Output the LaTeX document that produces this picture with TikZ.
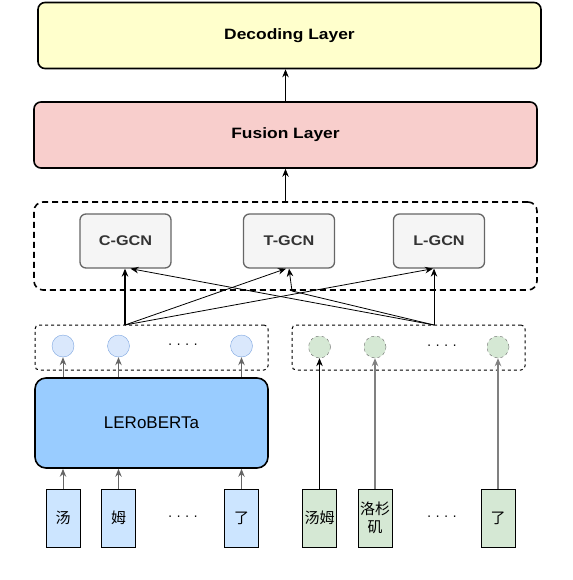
\documentclass[tikz,border=0pt]{standalone}
\usepackage{fontspec}
\setmainfont{Liberation Sans}
\newfontfamily\cjk{Noto Sans CJK SC}
\newfontfamily\wide[FakeStretch=1.16]{Liberation Sans}
\usetikzlibrary{positioning,calc,arrows.meta}
\definecolor{decfill}{HTML}{FFFFCC}
\definecolor{fusfill}{HTML}{F8CECC}
\definecolor{gcnfill}{HTML}{F5F5F5}
\definecolor{gcnline}{HTML}{666666}
\definecolor{gcntext}{HTML}{333333}
\definecolor{lerofill}{HTML}{99CCFF}
\definecolor{bluetok}{HTML}{CCE5FF}
\definecolor{greentok}{HTML}{D5E8D4}
\definecolor{bluevec}{HTML}{DAE8FC}
\definecolor{bluerim}{HTML}{7EA6E0}
\definecolor{greyline}{HTML}{808080}

\begin{document}
\begin{tikzpicture}
[x=1pt, y=-1pt, >={Stealth[length=8pt, width=6.5pt]},
layer/.style={draw, line width=1.6pt, rounded corners=7pt, minimum width=503pt, minimum height=66pt, font=\wide\bfseries\fontsize{15}{18}\selectfont},
gcn/.style={draw=gcnline, fill=gcnfill, line width=1.3pt, rounded corners=6pt, minimum width=91pt, minimum height=54pt, text=gcntext, font=\wide\bfseries\fontsize{14}{16}\selectfont},
group/.style={draw, line width=1pt, dash pattern=on 3pt off 3pt, rounded corners=4pt, minimum width=233pt, minimum height=45pt},
tok/.style={draw, line width=1pt, minimum width=34pt, minimum height=58pt, inner sep=1pt, text width=32pt, align=center, font=\cjk\fontsize{15}{18}\selectfont},
vec/.style={circle, minimum size=22pt, inner sep=0pt},
dots/.style={font=\fontsize{14}{14}\selectfont}]

\useasboundingbox (0,0) rectangle (572,580);

% layers on top
\node[layer, fill=decfill] (dec) at (289.5,35.5) {Decoding Layer};
\node[layer, fill=fusfill] (fus) at (285.5,135) {Fusion Layer};

% graph encoders
\node[draw, line width=1.6pt, dash pattern=on 6pt off 4pt, rounded corners=9pt, minimum width=503pt, minimum height=88pt] (gcns) at (285.5,246) {};
\node[gcn] (cg) at (125.5,241) {C-GCN};
\node[gcn] (tg) at (289,241) {T-GCN};
\node[gcn] (lg) at (439,241) {L-GCN};

% vectors
\node[group] (lvec) at (151.5,347.5) {};
\node[group] (rvec) at (408.5,347.5) {};
\node[vec, draw=bluerim, fill=bluevec] (l1) at (63,346) {};
\node[vec, draw=bluerim, fill=bluevec] (l2) at (118.5,346) {};
\node[vec, draw=bluerim, fill=bluevec] (l3) at (241.5,346) {};
\node[dots] at (183,346) {·~·~·~·};
\node[vec, draw=gcnline, dashed, fill=greentok] (r1) at (319.5,347) {};
\node[vec, draw=gcnline, dashed, fill=greentok] (r2) at (375,347) {};
\node[vec, draw=gcnline, dashed, fill=greentok] (r3) at (498,347) {};
\node[dots] at (442,347) {·~·~·~·};

% encoder
\node[draw, line width=1.6pt, fill=lerofill, rounded corners=11pt, minimum width=233pt, minimum height=90pt, font=\fontsize{17}{20}\selectfont] (lero) at (151.5,423) {LERoBERTa};

% tokens
\node[tok, fill=bluetok] (c1) at (63,518) {汤};
\node[tok, fill=bluetok] (c2) at (118.5,518) {姆};
\node[tok, fill=bluetok] (c3) at (241.5,518) {了};
\node[dots] at (183,518) {·~·~·~·};
\node[tok, fill=greentok] (w1) at (319.5,518) {汤姆};
\node[tok, fill=greentok] (w2) at (375,518) {洛杉\\矶};
\node[tok, fill=greentok] (w3) at (498,518) {了};
\node[dots] at (442,518) {·~·~·~·};

\coordinate (ls) at (125,325);
\coordinate (rs) at (434,325);
\coordinate (tbend) at (292,291);

\draw[->, line width=0.8pt] (fus.north) -- (fus.north |- dec.south);
\draw[->, line width=0.8pt] (gcns.north) -- (gcns.north |- fus.south);

\draw[->, line width=1.6pt] (ls) -- (ls |- cg.south);
\draw[->, line width=0.8pt] (ls) -- ([xshift=-3pt]tg.south);
\draw[->, line width=0.8pt] (ls) -- ([xshift=-6pt]lg.south);
\draw[->, line width=0.8pt] (rs) -- (rs |- lg.south);
\draw[->, line width=0.8pt] (rs) -- ([xshift=5pt]cg.south);
\draw[->, line width=0.8pt] (rs) -- (tbend) -- (tg.south);

\foreach \a/\b in {c1/lero, c2/lero, c3/lero}
  \draw[->, draw=gcnline, line width=1pt] (\a.north) -- (\a.north |- \b.south);
\foreach \a/\b in {l1, l2, l3}
  \draw[->, draw=gcnline, line width=1pt] (\a.south |- lero.north) -- (\a.south);

\draw[->, line width=0.6pt] (w1.north) -- (r1.south);
\draw[->, draw=greyline, line width=1.6pt] (w2.north) -- (r2.south);
\draw[->, draw=greyline, line width=2.4pt] (w3.north) -- (r3.south);
\end{tikzpicture}
\end{document}
